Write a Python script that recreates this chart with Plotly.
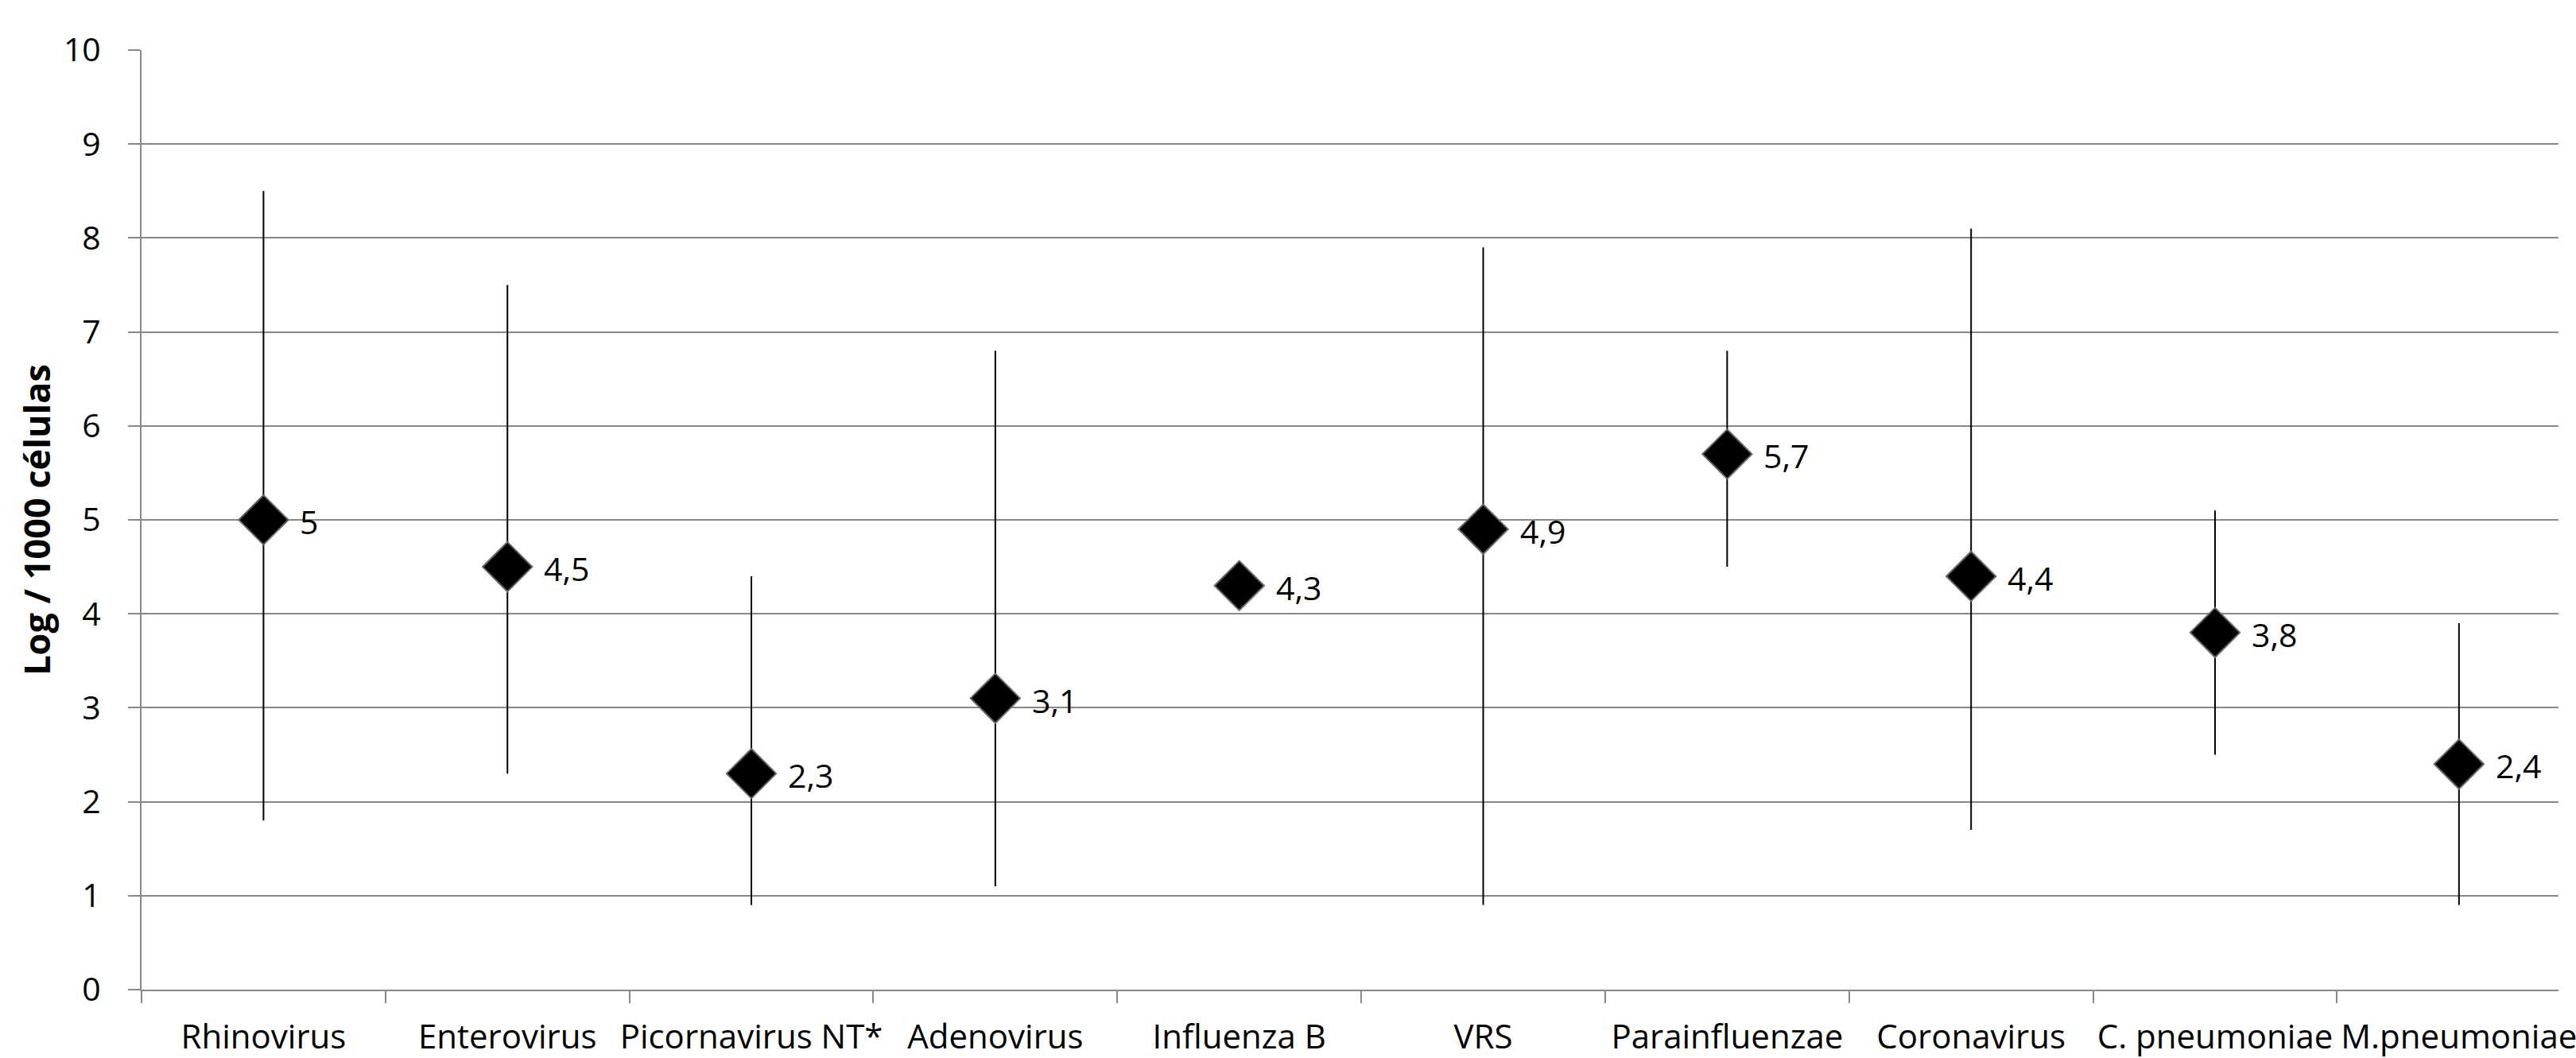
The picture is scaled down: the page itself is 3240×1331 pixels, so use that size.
import plotly.graph_objects as go

categories = ["Rhinovirus", "Enterovirus", "Picornavirus NT*", "Adenovirus", "Influenza B",
              "VRS", "Parainfluenzae", "Coronavirus", "C. pneumoniae", "M.pneumoniae"]
means = [5.0, 4.5, 2.3, 3.1, 4.3, 4.9, 5.7, 4.4, 3.8, 2.4]
max_vals = [8.5, 7.5, 4.4, 6.8, None, 7.9, 6.8, 8.1, 5.1, 3.9]
min_vals = [1.8, 2.3, 0.9, 1.1, None, 0.9, 4.5, 1.7, 2.5, 0.9]
y_ticks = list(range(0, 11))

err_plus = [None if mx is None else round(mx - m, 3) for mx, m in zip(max_vals, means)]
err_minus = [None if mn is None else round(m - mn, 3) for mn, m in zip(min_vals, means)]
labels = [("%g" % m).replace(".", ",") for m in means]

FONT = "Open Sans"
fig = go.Figure()
fig.add_trace(go.Scatter(
    x=categories, y=means, mode="markers",
    marker=dict(symbol="diamond", size=48, color="#000000",
                line=dict(color="#6a6a6a", width=2)),
    error_y=dict(type="data", symmetric=False, array=err_plus, arrayminus=err_minus,
                 color="#000000", thickness=2, width=0),
    showlegend=False, hoverinfo="skip",
))

for c, m, t in zip(categories, means, labels):
    fig.add_annotation(x=c, y=m, text=t, showarrow=False, xanchor="left", yanchor="middle",
                       xshift=44, yshift=-2, font=dict(family=FONT, size=41, color="#000000"))

fig.update_layout(
    width=3240, height=1331,
    margin=dict(l=178, r=0, t=63, b=82),
    paper_bgcolor="white", plot_bgcolor="white",
    font=dict(family=FONT, size=41, color="#000000"),
)
fig.update_xaxes(
    type="category", range=[-0.5, 9.408], tickson="boundaries",
    ticks="outside", ticklen=15, tickwidth=2, tickcolor="#888888",
    showline=True, linecolor="#888888", linewidth=2, showgrid=False,
    tickangle=0, ticklabelstandoff=22, tickfont=dict(family=FONT, size=42),
)
fig.update_yaxes(
    range=[0, 10], tickvals=y_ticks, ticks="outside", ticklen=15, tickwidth=2,
    tickcolor="#888888", showline=True, linecolor="#888888", linewidth=2,
    showgrid=True, gridcolor="#888888", gridwidth=2, zeroline=False,
    ticklabelstandoff=26, tickfont=dict(family=FONT, size=41),
    title=dict(text="<b>Log / 1000 células</b>", font=dict(family=FONT, size=45), standoff=2),
)

fig.write_html("out.html", config={"displayModeBar": False},
               post_script="document.body.style.margin='0';document.body.style.overflow='hidden';")
